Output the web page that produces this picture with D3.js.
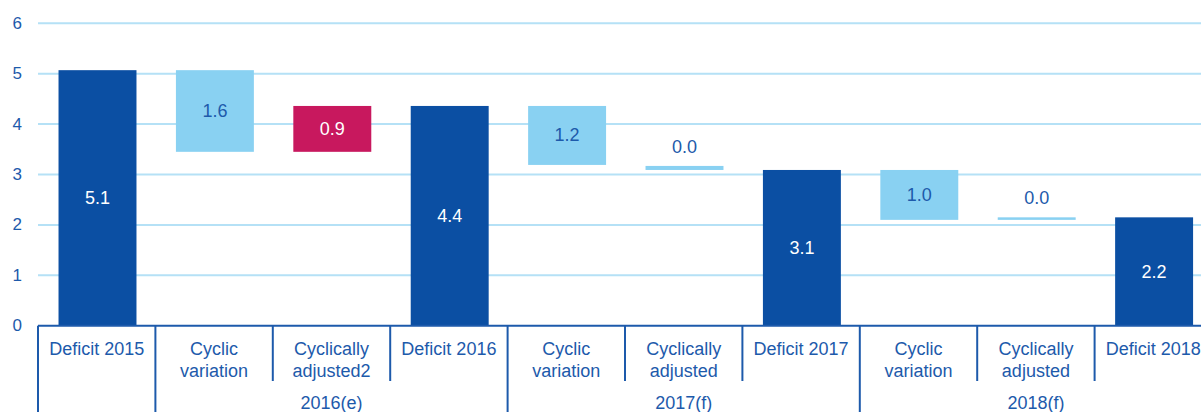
<!DOCTYPE html>
<html>
<head>
<meta charset="utf-8">
<script src="https://cdn.jsdelivr.net/npm/d3@7"></script>
<style>
  html, body { margin: 0; padding: 0; background: #ffffff; }
  svg { display: block; font-family: "Liberation Sans", Arial, sans-serif; }
</style>
</head>
<body>
<svg id="chart" width="1201" height="412"></svg>
<script>
// ---- data ----
const categories = [
  ["Deficit 2015"],
  ["Cyclic", "variation"],
  ["Cyclically", "adjusted2"],
  ["Deficit 2016"],
  ["Cyclic", "variation"],
  ["Cyclically", "adjusted"],
  ["Deficit 2017"],
  ["Cyclic", "variation"],
  ["Cyclically", "adjusted"],
  ["Deficit 2018"]
];
const barStart = [0, 3.45, 3.45, 0, 3.19, 3.09, 0, 2.10, 2.10, 0];
const barEnd   = [5.07, 5.07, 4.36, 4.36, 4.36, 3.17, 3.09, 3.09, 2.15, 2.15];
const barLabels = ["5.1", "1.6", "0.9", "4.4", "1.2", "0.0", "3.1", "1.0", "0.0", "2.2"];
const barKinds = ["total", "cyclic", "adjusted", "total", "cyclic", "cyclicThin", "total", "cyclic", "cyclicThin", "total"];
const groupLabels = ["", "2016(e)", "2017(f)", "2018(f)"];
const groupStarts = [0, 1, 4, 7];
const groupEnds   = [1, 4, 7, 10];
const yTicks = [0, 1, 2, 3, 4, 5, 6];

// ---- styles ----
const fillFor = { total: "#0B4FA3", cyclic: "#89D1F2", cyclicThin: "#89D1F2", adjusted: "#C8185E" };
const textFor = { total: "#ffffff", cyclic: "#1D5AAB", cyclicThin: "#1D5AAB", adjusted: "#ffffff" };
const axisColor = "#1D5AAB";
const gridColor = "#B5E1F6";

const svg = d3.select("#chart");
const x0 = 38, step = 117.4;
const x = d3.scaleBand()
  .domain(d3.range(categories.length))
  .range([x0, x0 + step * categories.length])
  .padding(0);
const y = d3.scaleLinear().domain([0, 6]).range([325.7, 23.3]);
const barW = x.bandwidth() * 0.664;

// gridlines
svg.append("g").selectAll("line").data(yTicks.filter(d => d > 0)).join("line")
  .attr("x1", x0).attr("x2", 1201)
  .attr("y1", d => y(d)).attr("y2", d => y(d))
  .attr("stroke", gridColor).attr("stroke-width", 2);

// y tick labels
svg.append("g").selectAll("text").data(yTicks).join("text")
  .attr("x", 22).attr("y", d => y(d))
  .attr("text-anchor", "end").attr("dominant-baseline", "central")
  .attr("font-size", 17).attr("fill", axisColor)
  .text(d => d);

// bars
const bars = svg.append("g");
bars.selectAll("rect").data(categories.map((c, i) => i)).join("rect")
  .attr("x", i => x(i) + (x.bandwidth() - barW) / 2 + 0.8)
  .attr("width", barW)
  .attr("y", i => y(barEnd[i]))
  .attr("height", i => y(barStart[i]) - y(barEnd[i]))
  .attr("fill", i => fillFor[barKinds[i]]);

// bar labels
svg.append("g").selectAll("text").data(categories.map((c, i) => i)).join("text")
  .attr("x", i => x(i) + x.bandwidth() / 2 + 0.8)
  .attr("y", i => barKinds[i] === "cyclicThin"
        ? y(barEnd[i]) - 19
        : (y(barStart[i]) + y(barEnd[i])) / 2)
  .attr("text-anchor", "middle").attr("dominant-baseline", "central")
  .attr("font-size", 18)
  .attr("fill", i => textFor[barKinds[i]])
  .text(i => barLabels[i]);

// x axis line
svg.append("line")
  .attr("x1", x0).attr("x2", 1201)
  .attr("y1", y(0)).attr("y2", y(0))
  .attr("stroke", axisColor).attr("stroke-width", 2);

// category dividers
const boundaries = d3.range(categories.length + 1);
svg.append("g").selectAll("line").data(boundaries).join("line")
  .attr("x1", i => x0 + step * i).attr("x2", i => x0 + step * i)
  .attr("y1", y(0))
  .attr("y2", i => groupStarts.includes(i) || i === categories.length ? 412 : 381)
  .attr("stroke", axisColor).attr("stroke-width", 2);

// category labels
const catG = svg.append("g");
categories.forEach((lines, i) => {
  const t = catG.append("text")
    .attr("x", x(i) + x.bandwidth() / 2)
    .attr("text-anchor", "middle")
    .attr("font-size", 18).attr("fill", axisColor);
  lines.forEach((ln, k) => {
    t.append("tspan")
      .attr("x", x(i) + x.bandwidth() / 2)
      .attr("y", 349 + k * 22)
      .attr("dominant-baseline", "central")
      .text(ln);
  });
});

// group labels
svg.append("g").selectAll("text").data(groupLabels.map((g, i) => i)).join("text")
  .attr("x", i => (x0 + step * groupStarts[i] + x0 + step * groupEnds[i]) / 2)
  .attr("y", 403)
  .attr("text-anchor", "middle").attr("dominant-baseline", "central")
  .attr("font-size", 18).attr("fill", axisColor)
  .text(i => groupLabels[i]);
</script>
</body>
</html>
